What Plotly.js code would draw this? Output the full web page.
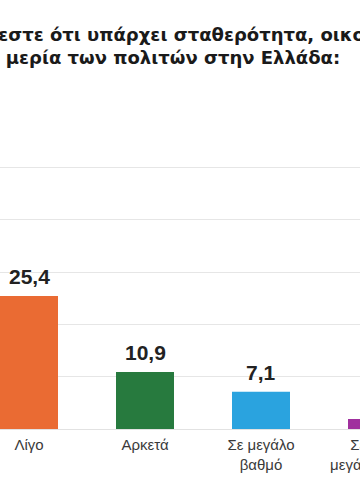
<!DOCTYPE html>
<html>
<head>
<meta charset="utf-8">
<script src="https://cdn.plot.ly/plotly-3.0.1.min.js"></script>
<style>
html,body{margin:0;padding:0;background:#fff;}
#frame{position:relative;width:360px;height:504px;overflow:hidden;}
#chart{position:absolute;left:-232px;top:0;width:800px;height:504px;}
</style>
</head>
<body>
<div id="frame"><div id="chart"></div></div>
<script>
const categories = ["Καθόλου", "Λίγο", "Αρκετά", "Σε μεγάλο<br>βαθμό", "Σε πολύ<br>μεγάλο βαθμό", "ΔΞ/ΔΑ"];
const values = [52.4, 25.4, 10.9, 7.1, 1.9, 2.3];
const colors = ["#D62E2E", "#EA6B33", "#277A3E", "#2AA3DF", "#A0309E", "#9A9A9A"];
const titleText = "Σε ποιο βαθμό τώρα αισθάνεστε ότι υπάρχει σταθερότητα, οικονομική ανάπτυξη και ευη-<br>μερία των πολιτών στην Ελλάδα:";
const yTicks = [0, 10, 20, 30, 40, 50, 60];

const fmt = v => v.toFixed(1).replace('.', ',');

const trace = {
  type: 'bar',
  x: categories,
  y: values,
  marker: {color: colors, line: {width: 0}},
  hoverinfo: 'none'
};

const annotations = categories.map((c, i) => ({
  x: c, y: values[i], xref: 'x', yref: 'y',
  text: '<b>' + fmt(values[i]) + '</b>',
  showarrow: false, yanchor: 'bottom', yshift: 6,
  font: {family: 'Liberation Sans, Arial, sans-serif', size: 21, color: '#222'}
}));

const layout = {
  width: 800, height: 504,
  margin: {l: 87, r: 17, t: 115, b: 75},
  paper_bgcolor: '#fff', plot_bgcolor: '#fff',
  showlegend: false,
  bargap: 0.5,
  title: {
    text: '<b>' + titleText + '</b>',
    x: 0.50625, xref: 'container', xanchor: 'center',
    y: 0.919, yref: 'container', yanchor: 'middle',
    font: {family: 'DejaVu Sans, sans-serif', size: 18, color: '#1a1a1a'}
  },
  xaxis: {
    type: 'category',
    range: [-0.5, categories.length - 0.5],
    showgrid: false, zeroline: false, showline: false,
    ticks: '', ticklabelstandoff: 5,
    tickfont: {family: 'Liberation Sans, Arial, sans-serif', size: 15, color: '#3a3a3a'},
    fixedrange: true
  },
  yaxis: {
    range: [0, 60],
    tickvals: yTicks,
    showticklabels: false,
    showgrid: true, gridcolor: '#e6e6e6', gridwidth: 1,
    zeroline: true, zerolinecolor: '#e2e2e2', zerolinewidth: 1,
    showline: false, ticks: '',
    fixedrange: true
  },
  annotations: annotations
};

Plotly.newPlot('chart', [trace], layout, {displayModeBar: false, staticPlot: true});
</script>
</body>
</html>
